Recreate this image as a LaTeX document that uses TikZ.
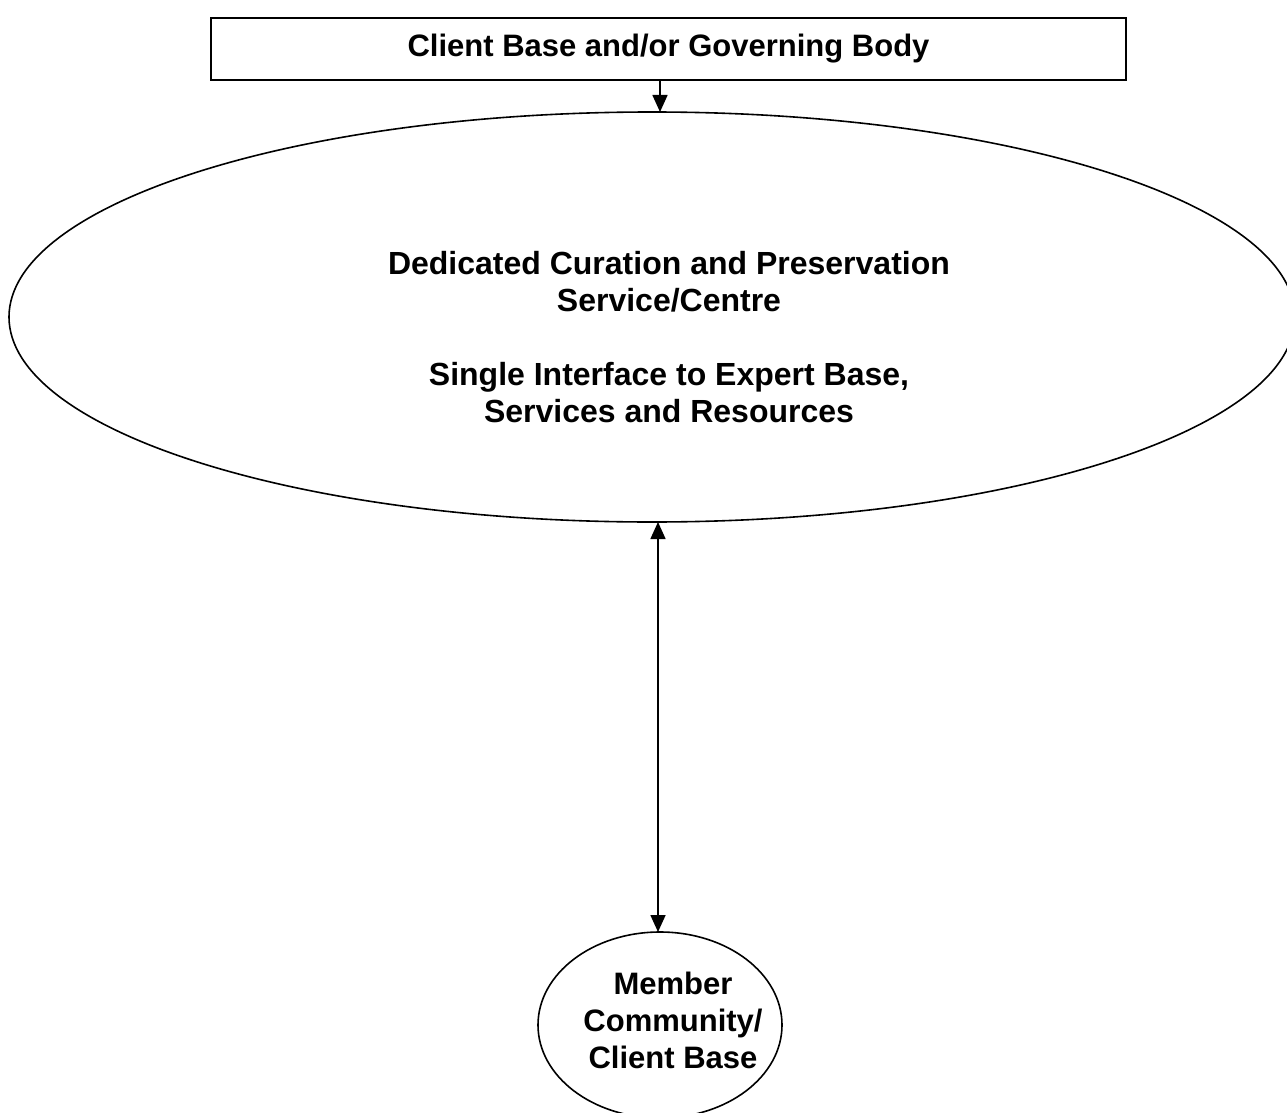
\documentclass[tikz,border=0pt]{standalone}
\usepackage{fontspec}
\setmainfont{Liberation Sans}
\usetikzlibrary{arrows.meta,shapes.geometric}
\begin{document}
\begin{tikzpicture}[x=1pt,y=-1pt,
  box/.style={draw,line width=2pt,minimum width=915pt,minimum height=62pt,
    inner sep=0pt,outer sep=0pt,font=\fontsize{31}{36}\selectfont\bfseries},
  oval/.style={draw,ellipse,line width=1.6pt,inner sep=0pt,outer sep=0pt},
  words/.style={align=center,inner sep=0pt,font=\fontsize{31}{37}\selectfont\bfseries},
  bigwords/.style={align=center,inner sep=0pt,font=\fontsize{32}{37}\selectfont\bfseries},
  link/.style={line width=1.6pt,-{Triangle[length=17pt,width=15pt]}},
  twoway/.style={line width=1.6pt,{Triangle[length=17pt,width=15pt]}-{Triangle[length=17pt,width=15pt]}}]
\useasboundingbox (0,0) rectangle (1287,1113);
\clip (0,0) rectangle (1287,1113);

% governing body
\node[box] (body) at (668.5,49) {Client Base and/or Governing Body};

% central service
\node[oval,minimum width=1286pt,minimum height=410pt] (centre) at (652,317) {};
\node[bigwords] (centretext) at (669,337)
  {Dedicated Curation and Preservation\\Service/Centre\\[37pt]Single Interface to Expert Base,\\Services and Resources};

% member community
\node[oval,minimum width=244pt,minimum height=186pt] (members) at (660,1025) {};
\node[words] (memberstext) at (673,1020) {Member\\Community/\\Client Base};

% connectors
\draw[link] ([xshift=-8.5pt]body.south) -- ([xshift=8pt]centre.north);
\draw[twoway] ([xshift=6pt]centre.south) -- ([xshift=-2pt]members.north);
\end{tikzpicture}
\end{document}
